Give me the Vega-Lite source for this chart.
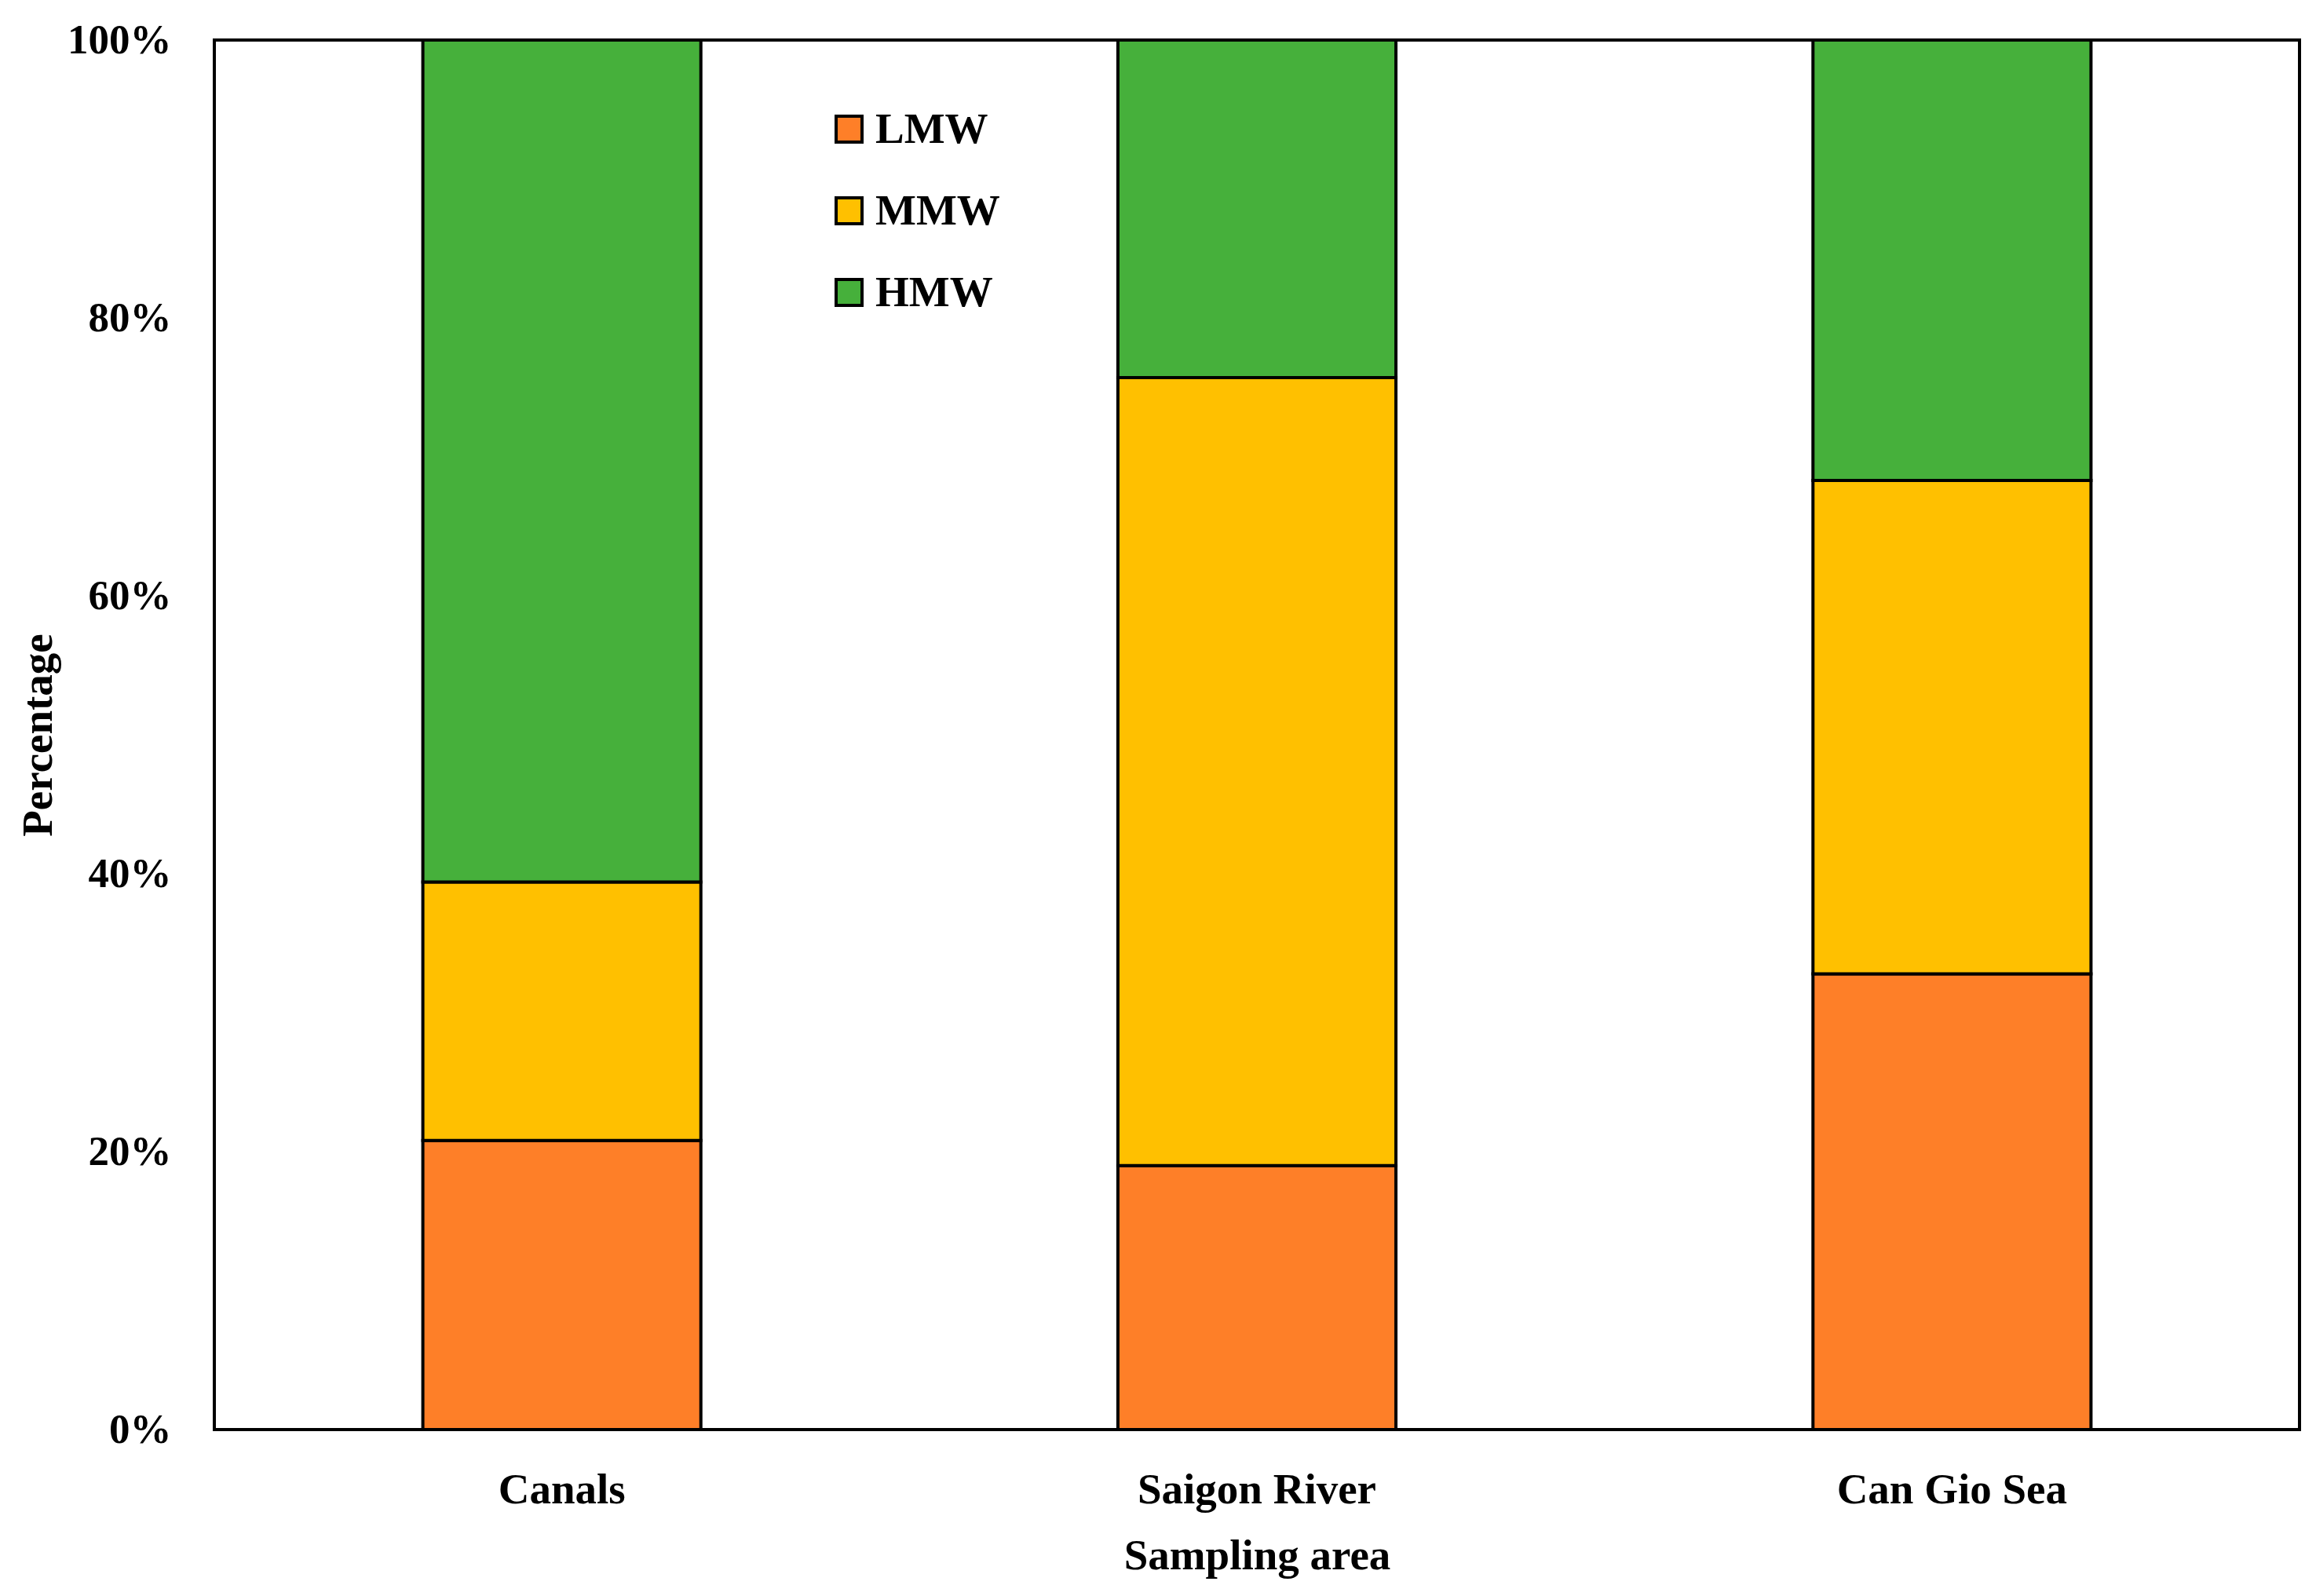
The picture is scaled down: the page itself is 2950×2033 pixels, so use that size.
{
  "$schema": "https://vega.github.io/schema/vega-lite/v6.json",
  "autosize": {"type": "none"},
  "width": 2656,
  "height": 1770,
  "padding": {"left": 273, "top": 51, "right": 21, "bottom": 212},
  "background": "white",
  "config": {
    "view": {"stroke": "black", "strokeWidth": 4},
    "font": "Liberation Serif"
  },
  "data": {
    "values": [
      {"area": "Canals", "class": "LMW", "rank": 1, "pct": 20.8},
      {"area": "Canals", "class": "MMW", "rank": 2, "pct": 18.6},
      {"area": "Canals", "class": "HMW", "rank": 3, "pct": 60.6},
      {"area": "Saigon River", "class": "LMW", "rank": 1, "pct": 19.0},
      {"area": "Saigon River", "class": "MMW", "rank": 2, "pct": 56.7},
      {"area": "Saigon River", "class": "HMW", "rank": 3, "pct": 24.3},
      {"area": "Can Gio Sea", "class": "LMW", "rank": 1, "pct": 32.8},
      {"area": "Can Gio Sea", "class": "MMW", "rank": 2, "pct": 35.5},
      {"area": "Can Gio Sea", "class": "HMW", "rank": 3, "pct": 31.7}
    ]
  },
  "mark": {"type": "bar", "stroke": "black", "strokeWidth": 4},
  "encoding": {
    "x": {
      "field": "area",
      "type": "nominal",
      "sort": ["Canals", "Saigon River", "Can Gio Sea"],
      "scale": {"paddingInner": 0.6, "paddingOuter": 0.3},
      "axis": {
        "title": "Sampling area",
        "labelAngle": 0,
        "labelLimit": 0,
        "ticks": false,
        "domain": false,
        "labelFont": "Liberation Serif",
        "labelFontSize": 55,
        "labelFontWeight": "bold",
        "labelColor": "black",
        "labelPadding": 50,
        "titleFont": "Liberation Serif",
        "titleFontSize": 55,
        "titleFontWeight": "bold",
        "titleColor": "black",
        "titlePadding": 30
      }
    },
    "y": {
      "field": "pct",
      "type": "quantitative",
      "stack": "zero",
      "scale": {"domain": [0, 100], "nice": false},
      "axis": {
        "title": "Percentage",
        "values": [0, 20, 40, 60, 80, 100],
        "labelExpr": "datum.value + '%'",
        "grid": false,
        "ticks": false,
        "domain": false,
        "labelFont": "Liberation Serif",
        "labelFontSize": 53,
        "labelFontWeight": "bold",
        "labelColor": "black",
        "labelPadding": 55,
        "titleFont": "Liberation Serif",
        "titleFontSize": 55,
        "titleFontWeight": "bold",
        "titleColor": "black",
        "titlePadding": 8
      }
    },
    "color": {
      "field": "class",
      "type": "nominal",
      "scale": {"domain": ["LMW", "MMW", "HMW"], "range": ["#FE7F28", "#FFC000", "#46B03B"]},
      "legend": {
        "title": null,
        "orient": "none",
        "legendX": 781,
        "legendY": 86,
        "symbolType": "square",
        "symbolSize": 1089,
        "symbolStrokeColor": "black",
        "symbolStrokeWidth": 4,
        "labelFont": "Liberation Serif",
        "labelFontSize": 55,
        "labelFontWeight": "bold",
        "labelColor": "black",
        "labelOffset": 6,
        "rowPadding": 48
      }
    },
    "order": {"field": "rank", "type": "quantitative"}
  }
}
